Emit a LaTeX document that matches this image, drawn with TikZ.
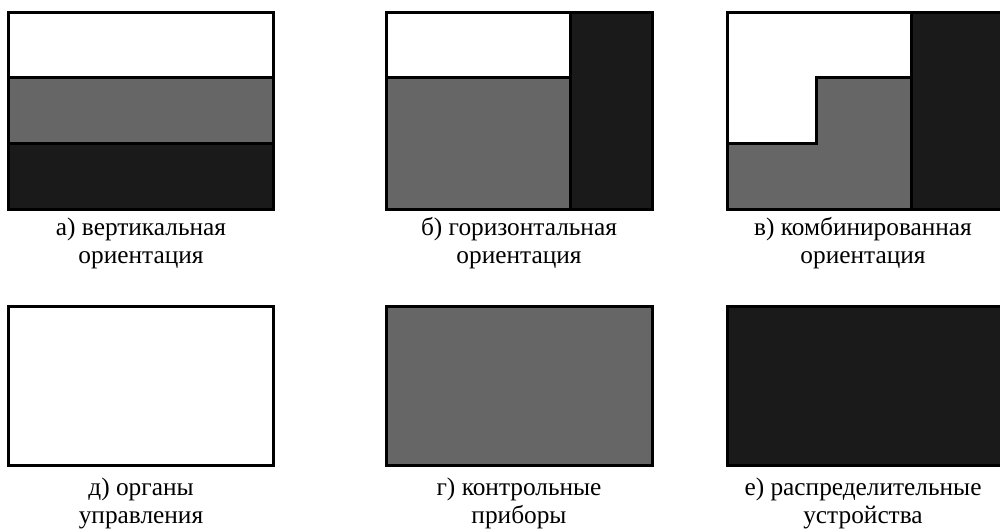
\documentclass[tikz,border=0pt]{standalone}
\usepackage{fontspec}
\setmainfont{Liberation Serif}
\definecolor{midgray}{HTML}{666666}
\definecolor{darkfill}{HTML}{1A1A1A}
\tikzset{
  panel/.style={draw=black, line width=2.25pt, line join=miter},
  lbl/.style={anchor=base, inner sep=0pt, font=\fontsize{19}{21}\selectfont}
}
\begin{document}
\begin{tikzpicture}[x=0.75pt, y=-0.75pt]
\useasboundingbox (0,0) rectangle (1000,529);
% --- a) vertical
\fill[white] (8,12) rectangle (273,77);
\fill[midgray] (8,77) rectangle (273,143);
\fill[darkfill] (8,143) rectangle (273,209);
\draw[panel] (8,77) -- (273,77);
\draw[panel] (8,143) -- (273,143);
\draw[panel] (8,12) rectangle (273,209);
% --- b) horizontal
\fill[white] (386,12) rectangle (570,77);
\fill[midgray] (386,77) rectangle (570,209);
\fill[darkfill] (570,12) rectangle (652,209);
\draw[panel] (386,77) -- (570,77);
\draw[panel] (570,12) -- (570,209);
\draw[panel] (386,12) rectangle (652,209);
% --- c) combined
\fill[white] (727,12) rectangle (911,209);
\fill[midgray] (816,77) -- (911,77) -- (911,209) -- (727,209) -- (727,143) -- (816,143) -- cycle;
\fill[darkfill] (911,12) rectangle (1003,209);
\draw[panel] (727,143) -- (816,143) -- (816,77) -- (911,77);
\draw[panel] (911,12) -- (911,209);
\draw[panel] (727,12) rectangle (1003,209);
% --- bottom row
\draw[panel, fill=white] (8,306) rectangle (273,465);
\draw[panel, fill=midgray] (386,306) rectangle (652,465);
\draw[panel, fill=darkfill] (727,306) rectangle (1003,465);
% --- labels
\node[lbl] (la1) at (141,235) {а) вертикальная};
\node[lbl] (la2) at (141,263) {ориентация};
\node[lbl] (lb1) at (519,235) {б) горизонтальная};
\node[lbl] (lb2) at (519,263) {ориентация};
\node[lbl] (lc1) at (863,235) {в) комбинированная};
\node[lbl] (lc2) at (863,263) {ориентация};
\node[lbl] (ld1) at (141,495) {д) органы};
\node[lbl] (ld2) at (141,523) {управления};
\node[lbl] (lg1) at (519,495) {г) контрольные};
\node[lbl] (lg2) at (519,523) {приборы};
\node[lbl] (le1) at (863,495) {е) распределительные};
\node[lbl] (le2) at (863,523) {устройства};
\end{tikzpicture}
\end{document}
